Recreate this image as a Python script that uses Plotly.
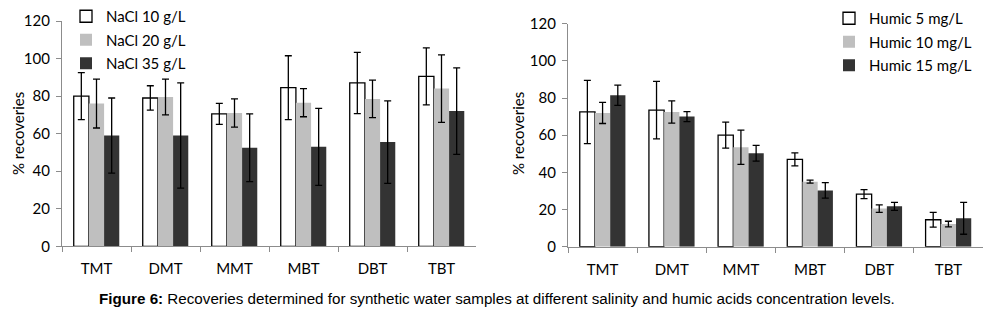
import plotly.graph_objects as go

categories = ["TMT", "DMT", "MMT", "MBT", "DBT", "TBT"]

# Left panel: salinity
nacl10 = [80, 79, 70.5, 84.5, 87, 90.5]
nacl10_err = [12.5, 6.5, 5.6, 17, 16.3, 15.2]
nacl20 = [76, 79.5, 71, 76.5, 78.5, 84]
nacl20_err = [13, 9.5, 7.5, 7.5, 10, 18]
nacl35 = [59, 59, 52.5, 53, 55.5, 72]
nacl35_err = [20, 28, 18, 20.5, 22, 23]

# Right panel: humic acids
humic5 = [72.5, 73.5, 60, 47, 28.3, 14.5]
humic5_err = [17, 15.5, 7, 3.5, 2.4, 4]
humic10 = [72, 72.5, 53.5, 35, 20.5, 12.2]
humic10_err = [5.7, 6, 9.2, 0.8, 2, 1.5]
humic15 = [81.5, 70, 50.3, 30.3, 21.7, 15.3]
humic15_err = [5.4, 2.7, 4.2, 4.2, 2.2, 8.6]

left_names = ["NaCl 10 g/L", "NaCl 20 g/L", "NaCl 35 g/L"]
right_names = ["Humic 5 mg/L", "Humic 10 mg/L", "Humic 15 mg/L"]

# page body has an 8px margin, so the figure is drawn 8px smaller and positions are offset
OFF = 8
W, H = 991 - OFF, 309 - OFF
FONT = "Lato"
fills = ["#FFFFFF", "#BFBFBF", "#333333"]
outline = ["#000000", "#BFBFBF", "#333333"]


def px(x):
    return (x - OFF) / W


def py(y):
    return 1 - (y - OFF) / H


fig = go.Figure()


def add_series(vals, errs, name, i, xa, ya, legend):
    fig.add_trace(go.Bar(
        x=categories, y=vals, name=name,
        marker=dict(color=fills[i], line=dict(color=outline[i], width=1.3 if i == 0 else 0)),
        error_y=dict(type="data", array=errs, visible=True, color="#000000", thickness=1.3, width=3.5),
        xaxis=xa, yaxis=ya, legend=legend, legendgroup=f"{legend}{i}",
    ))


for i, (v, e) in enumerate([(nacl10, nacl10_err), (nacl20, nacl20_err), (nacl35, nacl35_err)]):
    add_series(v, e, left_names[i], i, "x", "y", "legend")
for i, (v, e) in enumerate([(humic5, humic5_err), (humic10, humic10_err), (humic15, humic15_err)]):
    add_series(v, e, right_names[i], i, "x2", "y2", "legend2")

axcol = "#8C8C8C"
xax = dict(showgrid=False, showline=True, linecolor=axcol, linewidth=1.3, ticks="outside",
           tickson="boundaries", ticklen=5, tickcolor=axcol, tickwidth=1.3, automargin=False,
           tickfont=dict(family=FONT, size=15, color="#000"), ticklabelstandoff=9)
yax = dict(showgrid=False, showline=True, linecolor=axcol, linewidth=1.3, ticks="outside",
           ticklen=5, tickcolor=axcol, tickwidth=1.3, range=[0, 120], dtick=20, automargin=False,
           tickfont=dict(family=FONT, size=15, color="#000"), zeroline=False, ticklabelstandoff=3)

legend_common = dict(bgcolor="rgba(0,0,0,0)", font=dict(family=FONT, size=15, color="#000"),
                     tracegroupgap=1, xanchor="left", yanchor="top", itemwidth=30)

fig.update_layout(
    width=W, height=H,
    margin=dict(l=0, r=0, t=0, b=0, autoexpand=False),
    paper_bgcolor="white", plot_bgcolor="white",
    barmode="group", bargap=0.34, bargroupgap=0,
    xaxis=dict(domain=[px(62), px(476)], anchor="y", **xax),
    yaxis=dict(domain=[py(246.3), py(21)], anchor="x", **yax),
    xaxis2=dict(domain=[px(568), px(983)], anchor="y2", **xax),
    yaxis2=dict(domain=[py(246.7), py(23.7)], anchor="x2", **yax),
    legend=dict(x=px(66), y=py(0), **legend_common),
    legend2=dict(x=px(829), y=py(2), **legend_common),
    annotations=[
        dict(text="% recoveries", x=px(18), y=py(134), xref="paper", yref="paper",
             xanchor="center", yanchor="middle",
             textangle=-90, showarrow=False, font=dict(family=FONT, size=15, color="#000")),
        dict(text="% recoveries", x=px(518), y=py(134), xref="paper", yref="paper",
             xanchor="center", yanchor="middle",
             textangle=-90, showarrow=False, font=dict(family=FONT, size=15, color="#000")),
        dict(text="<b>Figure 6:</b> Recoveries determined for synthetic water samples at different salinity and humic acids concentration levels.",
             x=px(497), y=py(298), xref="paper", yref="paper", showarrow=False,
             xanchor="center", yanchor="middle",
             font=dict(family="Liberation Sans", size=15.2, color="#000")),
    ],
)

fig.write_html("out.html")
